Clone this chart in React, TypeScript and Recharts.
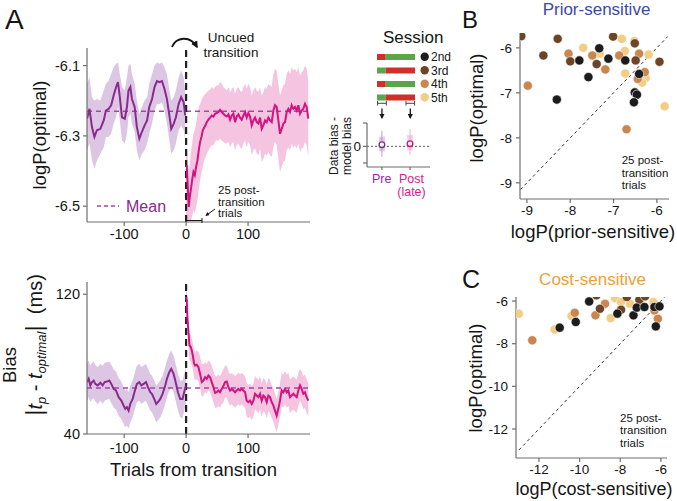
import React from "react";
import {
  ComposedChart,
  Line,
  Area,
  XAxis,
  YAxis,
  ReferenceLine,
  ScatterChart,
  Scatter,
  ErrorBar,
  BarChart,
  Bar,
  Cell,
} from "recharts";

const FONT = '"Liberation Sans", Arial, Helvetica, sans-serif';
const INK = "#151515";
const AXIS = "#6e6e6e";
const PRE = "#8a2a8e";
const PRE_BAND = "#dcc6e3";
const POST = "#d3137f";
const POST_BAND = "#f5c4e0";
const MEAN = "#a04aa2";
const SESSION_COLORS: Record<string, string> = {
  "2nd": "#1c1c1c",
  "3rd": "#6d4426",
  "4th": "#c9864f",
  "5th": "#f1cd86",
};
const CONTEXT_COLORS: Record<string, string> = { red: "#d1302a", green: "#5ba648" };

// ---- Panel A (top): logP(optimal) vs trials from transition ----
const preT = [-160, -156, -152, -148, -144, -138.5, -133, -129.5, -125, -121, -117, -113, -110, -107, -103.5, -99, -95.5, -93, -90, -87.5, -83, -79.5, -75.5, -71.5, -67, -63, -59.5, -55, -51, -47, -43, -39, -35, -31, -27, -24, -20, -16.5, -12, -8, -4, -1.5];
const preLogP = [-6.251, -6.223, -6.275, -6.303, -6.284, -6.28, -6.256, -6.228, -6.223, -6.213, -6.185, -6.161, -6.147, -6.19, -6.247, -6.251, -6.218, -6.171, -6.161, -6.195, -6.218, -6.275, -6.308, -6.289, -6.27, -6.256, -6.218, -6.195, -6.161, -6.144, -6.147, -6.144, -6.166, -6.195, -6.242, -6.28, -6.265, -6.247, -6.209, -6.19, -6.204, -6.242];
const preLogPHi = [-6.152, -6.133, -6.19, -6.199, -6.195, -6.199, -6.171, -6.152, -6.143, -6.124, -6.105, -6.095, -6.091, -6.124, -6.161, -6.171, -6.133, -6.1, -6.095, -6.124, -6.152, -6.199, -6.237, -6.218, -6.199, -6.19, -6.152, -6.124, -6.1, -6.091, -6.095, -6.091, -6.105, -6.124, -6.171, -6.199, -6.19, -6.171, -6.133, -6.114, -6.133, -6.171];
const preLogPLo = [-6.341, -6.322, -6.37, -6.393, -6.37, -6.351, -6.332, -6.303, -6.303, -6.294, -6.265, -6.247, -6.218, -6.256, -6.313, -6.322, -6.294, -6.247, -6.237, -6.265, -6.289, -6.341, -6.37, -6.351, -6.341, -6.322, -6.294, -6.265, -6.228, -6.209, -6.209, -6.204, -6.228, -6.265, -6.313, -6.351, -6.341, -6.322, -6.284, -6.27, -6.284, -6.313];

const postT = [0, 1, 2.7, 4.3, 5.9, 7.5, 9.7, 11.8, 14, 16.1, 18.3, 20.4, 22.6, 24.7, 26.9, 29, 31.2, 33.3, 36, 38.7, 41.4, 44.1, 46.8, 49.5, 52.2, 54.8, 57.5, 60.2, 62.9, 65.6, 68.3, 71, 73.7, 76.3, 79, 81.7, 84.4, 87.1, 89.8, 92.5, 95.2, 97.8, 100.5, 103.2, 105.9, 108.6, 111.3, 114, 116.7, 119.4, 122, 124.7, 127.4, 130.1, 132.8, 135.5, 138.2, 140.9, 143.5, 146.2, 148.9, 151.6, 154.3, 157, 159.7, 162.4, 165.1, 167.7, 170.4, 173.1, 175.8, 178.5, 181.2, 183.9, 186.6, 189.2, 191.9, 194.6, 197.3];
const postLogP = [-6.388, -6.384, -6.445, -6.502, -6.474, -6.455, -6.426, -6.403, -6.412, -6.388, -6.37, -6.341, -6.317, -6.303, -6.284, -6.277, -6.27, -6.261, -6.254, -6.248, -6.242, -6.245, -6.237, -6.235, -6.232, -6.226, -6.232, -6.237, -6.242, -6.245, -6.239, -6.254, -6.242, -6.237, -6.261, -6.245, -6.239, -6.248, -6.254, -6.242, -6.232, -6.248, -6.235, -6.245, -6.27, -6.256, -6.248, -6.261, -6.265, -6.248, -6.28, -6.27, -6.256, -6.261, -6.248, -6.256, -6.261, -6.228, -6.213, -6.218, -6.256, -6.294, -6.28, -6.265, -6.261, -6.232, -6.223, -6.232, -6.213, -6.223, -6.218, -6.228, -6.213, -6.237, -6.228, -6.223, -6.209, -6.218, -6.251];
const postLogPHi = [-6.341, -6.332, -6.36, -6.398, -6.379, -6.351, -6.322, -6.294, -6.284, -6.265, -6.237, -6.218, -6.209, -6.199, -6.19, -6.185, -6.18, -6.176, -6.171, -6.169, -6.161, -6.166, -6.161, -6.157, -6.157, -6.147, -6.152, -6.161, -6.166, -6.171, -6.161, -6.176, -6.166, -6.161, -6.18, -6.166, -6.161, -6.171, -6.176, -6.161, -6.152, -6.166, -6.152, -6.161, -6.185, -6.171, -6.161, -6.171, -6.176, -6.161, -6.185, -6.176, -6.161, -6.166, -6.152, -6.157, -6.161, -6.124, -6.109, -6.114, -6.152, -6.185, -6.171, -6.157, -6.152, -6.124, -6.114, -6.124, -6.105, -6.114, -6.109, -6.119, -6.105, -6.128, -6.119, -6.114, -6.1, -6.109, -6.143];
const postLogPLo = [-6.54, -6.54, -6.54, -6.54, -6.54, -6.54, -6.53, -6.511, -6.521, -6.502, -6.483, -6.455, -6.426, -6.407, -6.388, -6.37, -6.36, -6.351, -6.341, -6.332, -6.327, -6.327, -6.317, -6.313, -6.313, -6.308, -6.313, -6.317, -6.322, -6.322, -6.317, -6.332, -6.322, -6.317, -6.341, -6.327, -6.322, -6.332, -6.336, -6.322, -6.313, -6.332, -6.317, -6.327, -6.355, -6.341, -6.336, -6.351, -6.355, -6.336, -6.374, -6.365, -6.351, -6.355, -6.346, -6.355, -6.36, -6.332, -6.317, -6.327, -6.365, -6.403, -6.388, -6.374, -6.37, -6.341, -6.332, -6.341, -6.322, -6.332, -6.327, -6.336, -6.322, -6.346, -6.336, -6.332, -6.317, -6.327, -6.36];
const meanLogP = -6.23;

// ---- Panel A (bottom): bias ----
const preBiasT = [-160, -157.3, -154.6, -151.9, -149.2, -146.6, -142.8, -138.5, -134.7, -131.5, -127.7, -124, -120.8, -117, -113.2, -108.9, -104.6, -100.9, -98.2, -95.5, -92.8, -90.1, -86.3, -82, -79.4, -75.6, -72.4, -68.6, -64.8, -61.6, -57.9, -55.2, -51.5, -48.2, -45.5, -41.7, -38, -33.7, -31, -27.2, -24, -20.2, -17.5, -13.2, -9.5, -5.7, -2.5, -0.3];
const preBias = [69.7, 71.6, 67.8, 69.7, 70.6, 68.7, 67.8, 69.3, 67.8, 69.7, 70.0, 70.6, 68.7, 65.8, 64.9, 61.1, 59.1, 56.3, 54.4, 55.3, 53.4, 57.2, 60.1, 65.8, 68.7, 69.7, 67.8, 68.7, 69.7, 66.8, 63.9, 63.0, 60.1, 57.2, 58.2, 60.1, 63.0, 67.8, 71.6, 75.4, 77.3, 74.4, 70.6, 63.9, 60.1, 60.1, 64.9, 67.8];
const preBiasHi = [80.2, 82.1, 79.2, 80.8, 81.5, 79.6, 78.3, 80.2, 78.9, 80.8, 81.1, 81.5, 79.6, 76.9, 75.8, 72.0, 70.0, 66.8, 64.9, 65.8, 63.9, 67.8, 70.6, 76.4, 79.2, 80.2, 78.3, 79.2, 80.2, 77.3, 74.4, 73.5, 70.6, 67.8, 68.7, 70.6, 73.5, 78.3, 82.1, 85.9, 87.8, 85.0, 81.1, 74.4, 70.6, 70.6, 75.4, 78.3];
const preBiasLo = [59.1, 61.1, 58.2, 59.7, 60.5, 58.6, 57.2, 59.1, 57.2, 59.1, 59.7, 60.1, 57.8, 55.3, 54.0, 50.5, 48.6, 45.7, 43.8, 44.8, 43.3, 46.7, 49.6, 55.3, 58.2, 59.1, 57.2, 58.2, 59.1, 56.3, 53.4, 52.4, 49.6, 46.7, 47.7, 49.6, 52.4, 57.2, 61.1, 64.9, 66.8, 63.9, 60.1, 53.4, 49.6, 49.0, 54.4, 57.2];

const postBiasT = [0, 1.1, 2.2, 3.8, 5.4, 7.5, 9.1, 10.8, 12.9, 14.5, 17.2, 19.9, 22.6, 25.3, 28, 30.6, 33.3, 36, 38.7, 41.4, 44.1, 46.8, 49.5, 52.2, 54.8, 57.5, 60.2, 62.9, 65.6, 68.3, 71, 73.7, 76.3, 79, 81.7, 84.4, 87.1, 89.8, 92.5, 95.2, 97.8, 100.5, 103.2, 105.9, 108.6, 111.3, 114, 116.7, 119.4, 122, 124.7, 127.4, 130.1, 132.8, 135.5, 138.2, 140.9, 143.5, 146.2, 148.9, 151.6, 154.3, 157, 159.7, 162.4, 165.1, 167.7, 170.4, 173.1, 175.8, 178.5, 181.2, 183.9, 186.6, 189.2, 191.9, 194.6, 197.3];
const postBias = [118.5, 116.6, 106.0, 98.4, 90.7, 89.8, 87.8, 85.0, 80.2, 79.2, 79.6, 78.3, 74.4, 69.7, 70.6, 72.5, 71.6, 73.5, 72.5, 69.7, 66.8, 63.5, 63.9, 64.9, 63.9, 65.8, 67.4, 69.7, 70.0, 66.8, 64.9, 65.8, 64.9, 63.9, 64.9, 65.8, 64.9, 65.8, 64.9, 63.9, 59.1, 58.2, 59.1, 57.2, 59.1, 63.0, 62.0, 61.1, 63.0, 59.1, 62.0, 61.1, 58.2, 62.0, 61.1, 58.2, 56.3, 53.4, 50.5, 54.4, 59.1, 64.9, 63.9, 65.8, 63.9, 64.9, 61.1, 62.0, 63.0, 62.0, 61.1, 64.9, 67.8, 65.8, 63.0, 63.9, 61.1, 59.1];
const postBiasHi = [123, 122, 112, 105, 98, 97, 95, 92, 88, 87, 88, 87, 84, 80, 80, 81, 80, 82, 81, 79, 76, 73, 73, 74, 73, 75, 77, 79, 79, 76, 74, 75, 74, 73, 74, 75, 74, 75, 74, 73, 69, 68, 69, 67, 69, 73, 72, 71, 73, 69, 72, 71, 68, 72, 71, 68, 66, 63, 60, 64, 69, 75, 74, 76, 74, 75, 71, 72, 73, 72, 71, 75, 77, 76, 73, 74, 71, 69];
const postBiasLo = [112, 108, 98, 90, 82, 81, 79, 77, 72, 71, 71, 70, 66, 61, 62, 64, 63, 65, 64, 61, 58, 55, 55, 56, 55, 57, 58, 61, 61, 58, 56, 57, 56, 55, 56, 57, 56, 57, 56, 55, 50, 49, 50, 48, 50, 54, 53, 52, 54, 50, 53, 52, 49, 53, 52, 49, 47, 44, 41, 45, 50, 56, 55, 57, 55, 56, 52, 53, 54, 53, 52, 56, 59, 57, 54, 55, 52, 50];
const meanBias = 66.4;

// ---- Inset: sessions and data bias - model bias ----
const sessions = ["2nd", "3rd", "4th", "5th"];
const sessionPreShare = [23, 23, 23, 23];
const sessionPostShare = [77, 77, 77, 77];
const sessionPreContext = ["red", "green", "red", "green"];
const sessionPostContext = ["green", "red", "green", "red"];

const biasDiffLabels = ["Pre", "Post"];
const biasDiffMean = [0.05, 0.08];
const biasDiffWhisker = [[0.37, 0.42], [0.34, 0.44]];
const biasDiffCore = [[0.2, 0.24], [0.2, 0.26]];

// ---- Panel B: prior-sensitive ----
const priorX: Record<string, number[]> = {
  "2nd": [-8.31, -7.79, -7.58, -7.33, -7.12, -6.73, -6.41, -6.51, -6.46, -6.53],
  "3rd": [-9.13, -8.29, -8.62, -8.0, -7.39, -7.01, -6.51, -6.49, -5.94],
  "4th": [-8.98, -8.04, -7.49, -7.19, -6.87, -6.41, -6.28, -6.44, -6.7],
  "5th": [-7.7, -7.32, -6.81, -6.74, -6.73, -6.19, -6.26, -6.34, -5.82, -6.52],
};
const priorY: Record<string, number[]> = {
  "2nd": [-7.15, -6.28, -6.65, -6.01, -6.24, -6.28, -6.58, -6.99, -7.04, -7.21],
  "3rd": [-5.74, -5.8, -6.17, -6.3, -6.36, -5.75, -5.9, -6.28, -6.31],
  "4th": [-6.84, -6.13, -6.17, -6.48, -6.17, -6.13, -6.54, -6.69, -7.81],
  "5th": [-6.0, -6.13, -5.8, -6.07, -6.57, -6.15, -6.67, -6.77, -7.3, -5.85],
};

// ---- Panel C: cost-sensitive ----
const costX: Record<string, number[]> = {
  "2nd": [-10.98, -10.19, -9.53, -8.14, -7.35, -7.19, -6.81, -6.32, -6.07, -6.25],
  "3rd": [-9.17, -9.0, -7.96, -7.68, -7.06, -6.78],
  "4th": [-12.33, -10.24, -9.22, -8.75, -7.02, -6.32, -6.15],
  "5th": [-12.99, -11.23, -10.4, -8.26, -8.47, -7.96, -7.52, -6.37],
};
const costY: Record<string, number[]> = {
  "2nd": [-7.25, -6.98, -6.02, -6.59, -6.67, -6.31, -6.28, -6.28, -6.25, -7.19],
  "3rd": [-5.73, -6.36, -6.41, -5.81, -5.94, -5.78],
  "4th": [-7.84, -6.55, -6.67, -6.13, -6.13, -6.44, -6.83],
  "5th": [-6.59, -7.33, -6.7, -5.86, -6.8, -6.05, -6.13, -6.05],
};

const topRows = [
  ...preT.map((t, i) => ({ t, pre: preLogP[i], preBand: [preLogPLo[i], preLogPHi[i]] })),
  ...postT.map((t, i) => ({ t, post: postLogP[i], postBand: [postLogPLo[i], postLogPHi[i]] })),
];
const biasRows = [
  ...preBiasT.map((t, i) => ({ t, pre: preBias[i], preBand: [preBiasLo[i], preBiasHi[i]] })),
  ...postBiasT.map((t, i) => ({ t, post: postBias[i], postBand: [postBiasLo[i], postBiasHi[i]] })),
];
const sessionRows = sessions.map((s, i) => ({ s, pre: sessionPreShare[i], post: sessionPostShare[i] }));
const diffRows = biasDiffLabels.map((label, i) => ({
  x: i + 1,
  y: biasDiffMean[i],
  whisker: biasDiffWhisker[i],
  core: biasDiffCore[i],
}));
const scatterRows = (xs: Record<string, number[]>, ys: Record<string, number[]>, s: string) =>
  xs[s].map((x, i) => ({ x, y: ys[s][i] }));

const tickStyle = { fontSize: 14.5, fill: INK, fontFamily: FONT };
const smallTick = { fontSize: 13.5, fill: INK, fontFamily: FONT };
const axisLine = { stroke: AXIS, strokeWidth: 1.2 };

const dot = (fill: string) => (p: any) => (
  <circle cx={p.cx} cy={p.cy} r={4.6} fill={fill} stroke="#fff" strokeWidth={0.6} />
);
const ring = (stroke: string) => (p: any) => (
  <circle cx={p.cx} cy={p.cy} r={2.8} fill="#fff" stroke={stroke} strokeWidth={1.4} />
);

function TopPanel() {
  return (
    <ComposedChart width={320} height={260} data={topRows} margin={{ top: 48, right: 10, bottom: 0, left: 0 }}>
      <XAxis type="number" dataKey="t" domain={[-160, 200]} ticks={[-100, 0, 100]} allowDataOverflow height={38}
        axisLine={axisLine} tickLine={axisLine} tickSize={4} tickMargin={3} tick={tickStyle} interval={0} />
      <YAxis type="number" domain={[-6.545, -6.05]} ticks={[-6.5, -6.3, -6.1]} allowDataOverflow width={87}
        tickFormatter={(v: number) => v.toFixed(1)} axisLine={axisLine} tickLine={axisLine} tickSize={4} tickMargin={3}
        tick={tickStyle} interval={0} />
      <Area dataKey="preBand" fill={PRE_BAND} fillOpacity={1} stroke="none" isAnimationActive={false} />
      <Area dataKey="postBand" fill={POST_BAND} fillOpacity={1} stroke="none" isAnimationActive={false} />
      <ReferenceLine y={meanLogP} stroke={MEAN} strokeWidth={1.5} strokeDasharray="5 4" />
      <ReferenceLine x={0} stroke="#222" strokeWidth={2.2} strokeDasharray="7 4" />
      <Line dataKey="pre" stroke={PRE} strokeWidth={2} dot={false} isAnimationActive={false} />
      <Line dataKey="post" stroke={POST} strokeWidth={2} dot={false} isAnimationActive={false} />
    </ComposedChart>
  );
}

function BiasPanel() {
  return (
    <ComposedChart width={320} height={220} data={biasRows} margin={{ top: 32, right: 10, bottom: 0, left: 0 }}>
      <XAxis type="number" dataKey="t" domain={[-160, 200]} ticks={[-100, 0, 100]} allowDataOverflow height={36}
        axisLine={axisLine} tickLine={axisLine} tickSize={4} tickMargin={5} tick={tickStyle} interval={0} />
      <YAxis type="number" domain={[40, 127]} ticks={[40, 120]} allowDataOverflow width={87}
        axisLine={axisLine} tickLine={axisLine} tickSize={4} tickMargin={3} tick={tickStyle} interval={0} />
      <Area dataKey="preBand" fill={PRE_BAND} fillOpacity={1} stroke="none" isAnimationActive={false} />
      <Area dataKey="postBand" fill={POST_BAND} fillOpacity={1} stroke="none" isAnimationActive={false} />
      <ReferenceLine y={meanBias} stroke={MEAN} strokeWidth={1.5} strokeDasharray="5 4" />
      <ReferenceLine x={0} stroke="#222" strokeWidth={2.2} strokeDasharray="7 4" />
      <Line dataKey="pre" stroke={PRE} strokeWidth={2} dot={false} isAnimationActive={false} />
      <Line dataKey="post" stroke={POST} strokeWidth={2} dot={false} isAnimationActive={false} />
    </ComposedChart>
  );
}

function SessionBars() {
  return (
    <BarChart width={38} height={54} layout="vertical" data={sessionRows} margin={{ top: 0, right: 0, bottom: 0, left: 0 }}>
      <XAxis type="number" domain={[0, 100]} hide />
      <YAxis type="category" dataKey="s" hide />
      <Bar dataKey="pre" stackId="a" barSize={6} isAnimationActive={false}>
        {sessionRows.map((r, i) => (
          <Cell key={r.s} fill={CONTEXT_COLORS[sessionPreContext[i]]} />
        ))}
      </Bar>
      <Bar dataKey="post" stackId="a" barSize={6} isAnimationActive={false}>
        {sessionRows.map((r, i) => (
          <Cell key={r.s} fill={CONTEXT_COLORS[sessionPostContext[i]]} />
        ))}
      </Bar>
    </BarChart>
  );
}

function DiffPlot() {
  const colors = [PRE, POST];
  const faint = ["#b98cc2", "#ec9cc9"];
  return (
    <ScatterChart width={110} height={70} margin={{ top: 13, right: 10, bottom: 0, left: 0 }}>
      <XAxis type="number" dataKey="x" domain={[0.47, 2.71]} ticks={[1, 2]} allowDataOverflow height={13}
        tickFormatter={() => ""} axisLine={axisLine} tickLine={axisLine} tickSize={3} />
      <YAxis type="number" dataKey="y" domain={[-0.62, 0.7]} ticks={[-0.5, 0, 0.7]} allowDataOverflow width={37}
        tickFormatter={(v: number) => (v === 0 ? "0" : "")} axisLine={axisLine} tickLine={axisLine} tickSize={4}
        tickMargin={2} tick={smallTick} interval={0} />
      <ReferenceLine y={0} stroke="#333" strokeWidth={0.8} strokeDasharray="2 2" />
      {diffRows.map((r, i) => (
        <Scatter key={biasDiffLabels[i]} data={[r]} shape={ring(colors[i])} isAnimationActive={false}>
          <ErrorBar dataKey="core" direction="y" width={0} stroke={faint[i]} strokeWidth={6} strokeOpacity={0.45} />
          <ErrorBar dataKey="whisker" direction="y" width={0} stroke={faint[i]} strokeWidth={1.2} strokeOpacity={0.7} />
        </Scatter>
      ))}
    </ScatterChart>
  );
}

function ScatterPanel({ xs, ys, xDomain, yDomain, ticksX, ticksY, w, h, margin, yWidth, xHeight, diag }: any) {
  const order = ["5th", "4th", "3rd", "2nd"];
  return (
    <ScatterChart width={w} height={h} margin={margin}>
      <XAxis type="number" dataKey="x" domain={xDomain} ticks={ticksX} allowDataOverflow height={xHeight}
        axisLine={axisLine} tickLine={axisLine} tickSize={4} tickMargin={2} tick={smallTick} interval={0} />
      <YAxis type="number" dataKey="y" domain={yDomain} ticks={ticksY} allowDataOverflow width={yWidth}
        axisLine={axisLine} tickLine={axisLine} tickSize={4} tickMargin={4} tick={smallTick} interval={0} />
      <ReferenceLine segment={diag} stroke="#333" strokeWidth={1} strokeDasharray="3 3" ifOverflow="visible" />
      {order.map((s) => (
        <Scatter key={s} data={scatterRows(xs, ys, s)} shape={dot(SESSION_COLORS[s])} isAnimationActive={false} />
      ))}
    </ScatterChart>
  );
}

function Overlay() {
  const t = { fontFamily: FONT, fill: INK };
  return (
    <svg width={677} height={501} style={{ position: "absolute", left: 0, top: 0, pointerEvents: "none" }}>
      <defs>
        <marker id="ah" viewBox="0 0 10 10" refX="8" refY="5" markerWidth="4" markerHeight="4" orient="auto">
          <path d="M0,0 L10,5 L0,10 z" fill={INK} />
        </marker>
      </defs>
      {/* panel letters */}
      <text x={5} y={29} fontSize={28} {...t}>A</text>
      <text x={462} y={28} fontSize={24} {...t}>B</text>
      <text x={462} y={288} fontSize={25} {...t}>C</text>

      {/* panel A top */}
      <text transform="rotate(-90)" x={-135} y={46} fontSize={18.5} textAnchor="middle" {...t}>logP(optimal)</text>
      <text x={231} y={41.5} fontSize={13.5} textAnchor="middle" {...t}>Uncued</text>
      <text x={231} y={56.5} fontSize={13.5} textAnchor="middle" {...t}>transition</text>
      <path d="M172,47 C176,37 190,35 197,47" fill="none" stroke={INK} strokeWidth={1.8} markerEnd="url(#ah)" />
      <line x1={97} y1={206} x2={119} y2={206} stroke={MEAN} strokeWidth={1.5} strokeDasharray="4 3" />
      <text x={126} y={212} fontSize={16} fontFamily={FONT} fill={PRE}>Mean</text>
      <text x={218} y={194} fontSize={11.5} {...t}>25 post-</text>
      <text x={218} y={205.5} fontSize={11.5} {...t}>transition</text>
      <text x={218} y={217} fontSize={11.5} {...t}>trials</text>
      <line x1={215} y1={209} x2={206} y2={215.5} stroke={INK} strokeWidth={1} markerEnd="url(#ah)" />
      <line x1={186.5} y1={220.5} x2={202} y2={220.5} stroke={INK} strokeWidth={1} />
      <line x1={202} y1={218} x2={202} y2={223} stroke={INK} strokeWidth={1} />

      {/* panel A bottom */}
      <text transform="rotate(-90)" x={-365} y={15.5} fontSize={18.5} textAnchor="middle" {...t}>Bias</text>
      <text transform="rotate(-90)" x={-345} y={42} fontSize={20} textAnchor="middle" {...t}>
        <tspan fontSize={24}>|</tspan>
        <tspan fontStyle="italic">t</tspan>
        <tspan fontStyle="italic" fontSize={13} dy={4}>p</tspan>
        <tspan dy={-4}> - </tspan>
        <tspan fontStyle="italic">t</tspan>
        <tspan fontStyle="italic" fontSize={13} dy={4}>optimal</tspan>
        <tspan dy={-4} fontSize={24}>|</tspan>
        <tspan>{"\u00a0 (ms)"}</tspan>
      </text>
      <text x={193.5} y={476} fontSize={18.5} textAnchor="middle" {...t}>Trials from transition</text>

      {/* inset: sessions */}
      <text x={383} y={43} fontSize={17} {...t}>Session</text>
      {sessions.map((s, i) => (
        <g key={s}>
          <circle cx={424.7} cy={56.7 + i * 13.5} r={4.2} fill={SESSION_COLORS[s]} />
          <text x={431} y={61 + i * 13.5} fontSize={12} {...t}>{s}</text>
        </g>
      ))}
      {[[377.6, 386.3], [406, 414.6]].map(([a, b], i) => (
        <g key={i} stroke="#444" strokeWidth={1}>
          <line x1={a} y1={103.3} x2={b} y2={103.3} />
          <line x1={a} y1={101} x2={a} y2={105.6} />
          <line x1={b} y1={101} x2={b} y2={105.6} />
          <line x1={(a + b) / 2} y1={108.5} x2={(a + b) / 2} y2={118} strokeWidth={1.3} stroke={INK} markerEnd="url(#ah)" />
        </g>
      ))}
      <text transform="rotate(-90)" x={-146} y={338} fontSize={12} textAnchor="middle" {...t}>Data bias -</text>
      <text transform="rotate(-90)" x={-146} y={351} fontSize={12} textAnchor="middle" {...t}>model bias</text>
      <text x={381.7} y={182.5} fontSize={12.5} textAnchor="middle" fontFamily={FONT} fill="#a0259c">Pre</text>
      <text x={411.5} y={182.5} fontSize={12.5} textAnchor="middle" fontFamily={FONT} fill="#d81b8a">Post</text>
      <text x={411.5} y={196} fontSize={12.5} textAnchor="middle" fontFamily={FONT} fill="#d81b8a">(late)</text>

      {/* panel B */}
      <text x={596.5} y={15} fontSize={17} textAnchor="middle" fontFamily={FONT} fill="#3b49a7">Prior-sensitive</text>
      <text transform="rotate(-90)" x={-108} y={483} fontSize={18.5} textAnchor="middle" {...t}>logP(optimal)</text>
      <text x={593} y={238} fontSize={18.5} textAnchor="middle" {...t}>logP(prior-sensitive)</text>
      <text x={621.7} y={164} fontSize={11.5} {...t}>25 post-</text>
      <text x={621.7} y={176.7} fontSize={11.5} {...t}>transition</text>
      <text x={621.7} y={189.3} fontSize={11.5} {...t}>trials</text>

      {/* panel C */}
      <text x={592.5} y={285} fontSize={17} textAnchor="middle" fontFamily={FONT} fill="#eba238">Cost-sensitive</text>
      <text transform="rotate(-90)" x={-378} y={482} fontSize={18.5} textAnchor="middle" {...t}>logP(optimal)</text>
      <text x={594} y={495} fontSize={18} textAnchor="middle" {...t}>logP(cost-sensitive)</text>
      <text x={620} y={421.7} fontSize={11.5} {...t}>25 post-</text>
      <text x={620} y={434.3} fontSize={11.5} {...t}>transition</text>
      <text x={620} y={446.7} fontSize={11.5} {...t}>trials</text>
    </svg>
  );
}

const at = (left: number, top: number): React.CSSProperties => ({ position: "absolute", left, top });

export default function App() {
  return (
    <div style={{ position: "absolute", left: 0, top: 0, width: 677, height: 501, background: "#fff", fontFamily: FONT, overflow: "hidden" }}>
      <div style={at(0, 0)}>
        <TopPanel />
      </div>
      <div style={at(0, 250)}>
        <BiasPanel />
      </div>
      <div style={at(377.4, 50)}>
        <SessionBars />
      </div>
      <div style={at(330, 110)}>
        <DiffPlot />
      </div>
      <div style={at(420, 0)}>
        <ScatterPanel xs={priorX} ys={priorY} xDomain={[-9.16, -5.72]} yDomain={[-9.36, -5.67]}
          ticksX={[-9, -8, -7, -6]} ticksY={[-9, -8, -7, -6]} w={257} h={240}
          margin={{ top: 33, right: 8, bottom: 0, left: 0 }} yWidth={100} xHeight={41}
          diag={[{ x: -9.15, y: -9.15 }, { x: -5.75, y: -5.75 }]} />
      </div>
      <div style={at(420, 250)}>
        <ScatterPanel xs={costX} ys={costY} xDomain={[-13.13, -5.7]} yDomain={[-13.36, -5.81]}
          ticksX={[-12, -10, -8, -6]} ticksY={[-12, -10, -8, -6]} w={257} h={251}
          margin={{ top: 47, right: 10, bottom: 0, left: 0 }} yWidth={96} xHeight={43}
          diag={[{ x: -12.98, y: -12.98 }, { x: -5.82, y: -5.82 }]} />
      </div>
      <Overlay />
    </div>
  );
}
